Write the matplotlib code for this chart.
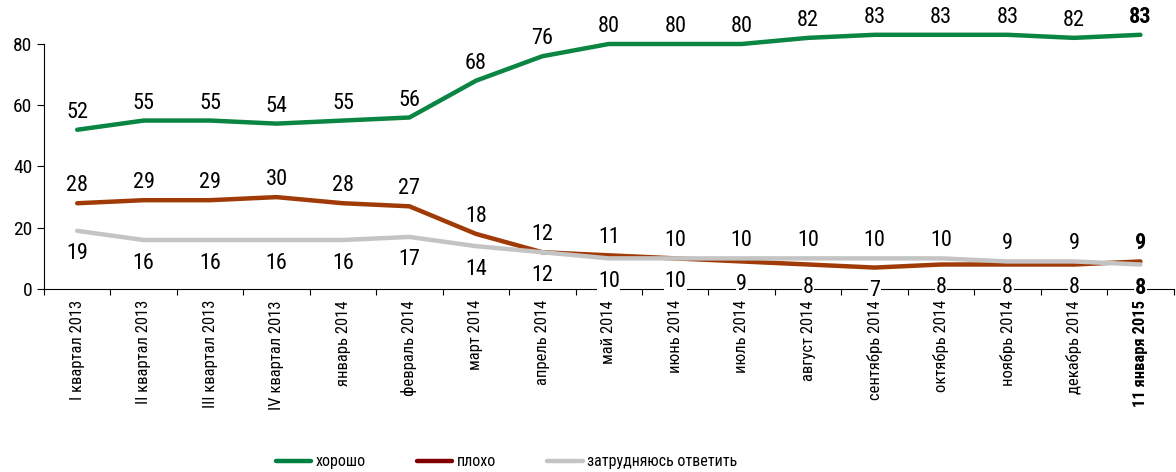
import numpy as np
import matplotlib
matplotlib.use('Agg')
import matplotlib.pyplot as plt
from matplotlib import font_manager
from matplotlib.lines import Line2D

# Шрифт: по возможности узкий
names = {f.name for f in font_manager.fontManager.ttflist}
font = 'Liberation Sans'
for cand in ['Roboto Condensed', 'Liberation Sans Narrow', 'Open Sans Condensed',
             'Noto Sans Condensed', 'DejaVu Sans Condensed']:
    if cand in names:
        font = cand
        break
narrow = font != 'Liberation Sans'
plt.rcParams['font.family'] = [font, 'DejaVu Sans']

# Данные
categories = ['I квартал 2013', 'II квартал 2013', 'III квартал 2013', 'IV квартал 2013',
              'январь 2014', 'февраль 2014', 'март 2014', 'апрель 2014', 'май 2014',
              'июнь 2014', 'июль 2014', 'август 2014', 'сентябрь 2014', 'октябрь 2014',
              'ноябрь 2014', 'декабрь 2014', '11 января 2015']
good = [52, 55, 55, 54, 55, 56, 68, 76, 80, 80, 80, 82, 83, 83, 83, 82, 83]
bad = [28, 29, 29, 30, 28, 27, 18, 12, 11, 10, 9, 8, 7, 8, 8, 8, 9]
unsure = [19, 16, 16, 16, 16, 17, 14, 12, 10, 10, 10, 10, 10, 10, 9, 9, 8]

c_good = '#0a8542'
c_bad = '#a03a06'
c_unsure = '#c4c4c4'

x = np.arange(len(categories))

fig = plt.figure(figsize=(11.76, 4.72), dpi=100)
ax = fig.add_axes([0.0374, 0.3877, 0.9606, 0.584])

ax.plot(x, bad, color=c_bad, lw=3.2, solid_capstyle='round', zorder=2)
ax.plot(x, unsure, color=c_unsure, lw=3.2, solid_capstyle='round', zorder=3)
ax.plot(x, good, color=c_good, lw=3.2, solid_capstyle='round', zorder=3)

last = len(categories) - 1
fs = 16 if narrow else 15
for i in x:
    w = 'bold' if i == last else 'normal'
    ax.annotate(str(good[i]), (i, good[i]), xytext=(0, 5), textcoords='offset points',
                ha='center', va='bottom', fontsize=fs, fontweight=w)
    hi, lo = (bad[i], unsure[i]) if bad[i] >= unsure[i] else (unsure[i], bad[i])
    ax.annotate(str(hi), (i, hi), xytext=(0, 5), textcoords='offset points',
                ha='center', va='bottom', fontsize=fs, fontweight=w)
    ax.annotate(str(lo), (i, lo), xytext=(0, -9), textcoords='offset points',
                ha='center', va='top', fontsize=fs, fontweight=w, zorder=5,
                bbox=dict(facecolor='white', edgecolor='none', pad=0.5))

ax.set_xlim(-0.5, len(categories) - 0.5)
ax.set_ylim(0, 90)
ax.set_yticks([0, 20, 40, 60, 80])
ax.spines['left'].set_bounds(0, 80)
ax.spines['top'].set_visible(False)
ax.spines['right'].set_visible(False)
ax.tick_params(axis='y', labelsize=14, length=5, width=0.8)

ax.set_xticks(x)
ax.set_xticklabels(categories, rotation=90, fontsize=12 if narrow else 11)
ax.get_xticklabels()[-1].set_fontweight('bold')
ax.tick_params(axis='x', which='major', length=0, pad=8)
ax.set_xticks(np.arange(len(categories) + 1) - 0.5, minor=True)
ax.tick_params(axis='x', which='minor', length=4, width=0.8)

handles = [Line2D([], [], color='#008040', lw=3.2, solid_capstyle='round'),
           Line2D([], [], color='#800000', lw=3.2, solid_capstyle='round'),
           Line2D([], [], color=c_unsure, lw=3.2, solid_capstyle='round')]
fig.legend(handles, ['хорошо', 'плохо', 'затрудняюсь ответить'], loc='center',
           bbox_to_anchor=(0.431, 0.022), ncol=3, frameon=False,
           fontsize=11.5 if narrow else 11,
           handlelength=2.2, handletextpad=0.3, columnspacing=3.2)

fig.savefig('out.png', dpi=100)
